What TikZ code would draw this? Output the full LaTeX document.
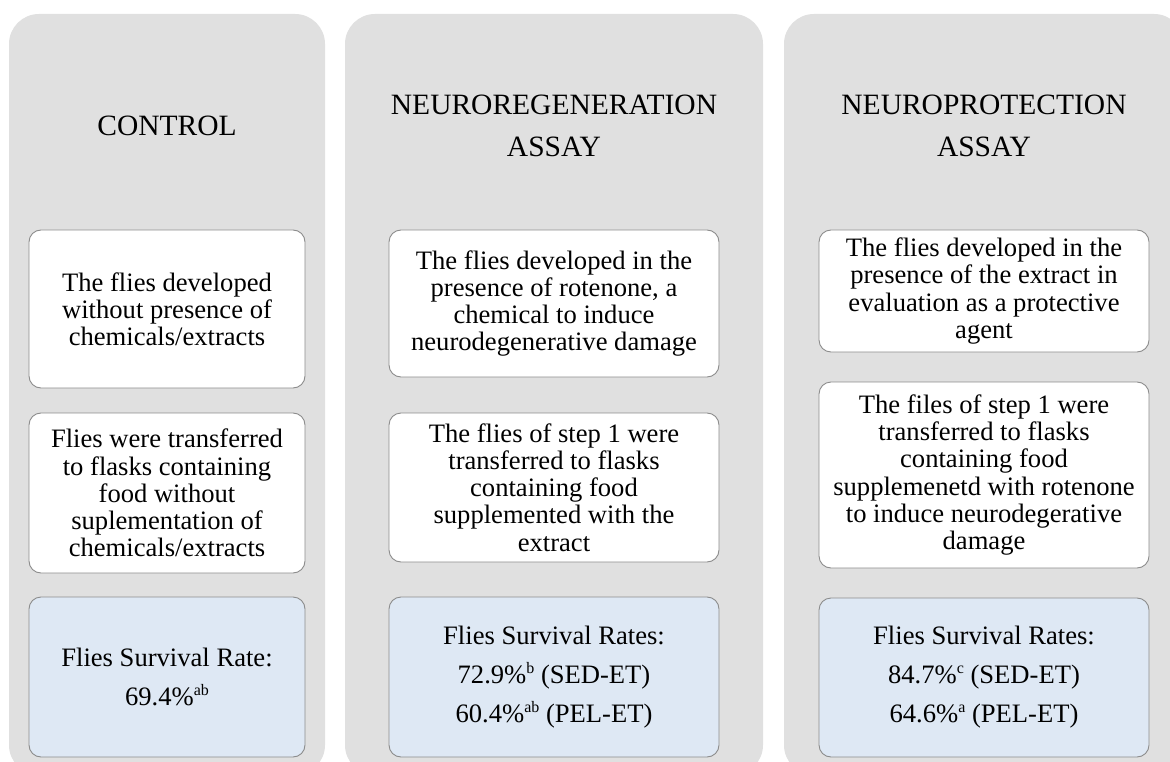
\documentclass[tikz,border=0pt]{standalone}
\usepackage{fontspec}
\setmainfont{Liberation Serif}
\definecolor{panelgray}{RGB}{224,224,224}
\definecolor{boxline}{RGB}{140,140,140}
\definecolor{resblue}{RGB}{222,232,244}
\newcommand{\mysup}[1]{\raisebox{0.38em}{\fontsize{16}{16}\selectfont #1}}
\tikzset{
  panel/.style={fill=panelgray, draw=none, rounded corners=30pt, minimum height=761pt, inner sep=0pt},
  stepbox/.style={fill=white, draw=boxline, line width=0.9pt, rounded corners=12pt, align=center, inner sep=0pt,
    font=\fontsize{26.6}{27.2}\selectfont},
  resbox/.style={stepbox, fill=resblue, font=\fontsize{26.6}{39}\selectfont},
  title/.style={align=center, font=\fontsize{29.5}{42}\selectfont, inner sep=0pt}
}
\begin{document}
\begin{tikzpicture}[x=1pt,y=-1pt]
\clip (0,0) rectangle (1170,762);
\fill[white] (0,0) rectangle (1170,762);
% panels
\node[panel, minimum width=316pt] (p1) at (167,394.5) {};
\node[panel, minimum width=418pt] (p2) at (554,394.5) {};
\node[panel, minimum width=400pt] (p3) at (984,394.5) {};
% titles
\node[title] (t1) at (167,126) {CONTROL};
\node[title] (t2) at (554,126) {NEUROREGENERATION\\ASSAY};
\node[title] (t3) at (984,126) {NEUROPROTECTION\\ASSAY};
% column 1
\node[stepbox, minimum width=276pt, minimum height=158pt] (a1) at (167,309)
  {The flies developed\\without presence of\\chemicals/extracts};
\node[stepbox, minimum width=276pt, minimum height=160pt] (a2) at (167,493)
  {Flies were transferred\\to flasks containing\\food without\\suplementation of\\chemicals/extracts};
\node[resbox, minimum width=276pt, minimum height=160pt] (a3) at (167,677)
  {Flies Survival Rate:\\69.4\%\mysup{ab}};
% column 2
\node[stepbox, minimum width=330pt, minimum height=147pt] (b1) at (554,303.5)
  {The flies developed in the\\presence of rotenone, a\\chemical to induce\\neurodegenerative damage};
\node[stepbox, minimum width=330pt, minimum height=149pt] (b2) at (554,487.5)
  {The flies of step 1 were\\transferred to flasks\\containing food\\supplemented with the\\extract};
\node[resbox, minimum width=330pt, minimum height=160pt] (b3) at (554,677)
  {Flies Survival Rates:\\72.9\%\mysup{b} (SED-ET)\\60.4\%\mysup{ab} (PEL-ET)};
% column 3
\node[stepbox, minimum width=330pt, minimum height=122pt] (c1) at (984,291)
  {The flies developed in the\\presence of the extract in\\evaluation as a protective\\agent};
\node[stepbox, minimum width=330pt, minimum height=186pt] (c2) at (984,475)
  {The files of step 1 were\\transferred to flasks\\containing food\\supplemenetd with rotenone\\to induce neurodegerative\\damage};
\node[resbox, minimum width=330pt, minimum height=159pt] (c3) at (984,677.5)
  {Flies Survival Rates:\\84.7\%\mysup{c} (SED-ET)\\64.6\%\mysup{a} (PEL-ET)};
\end{tikzpicture}
\end{document}
